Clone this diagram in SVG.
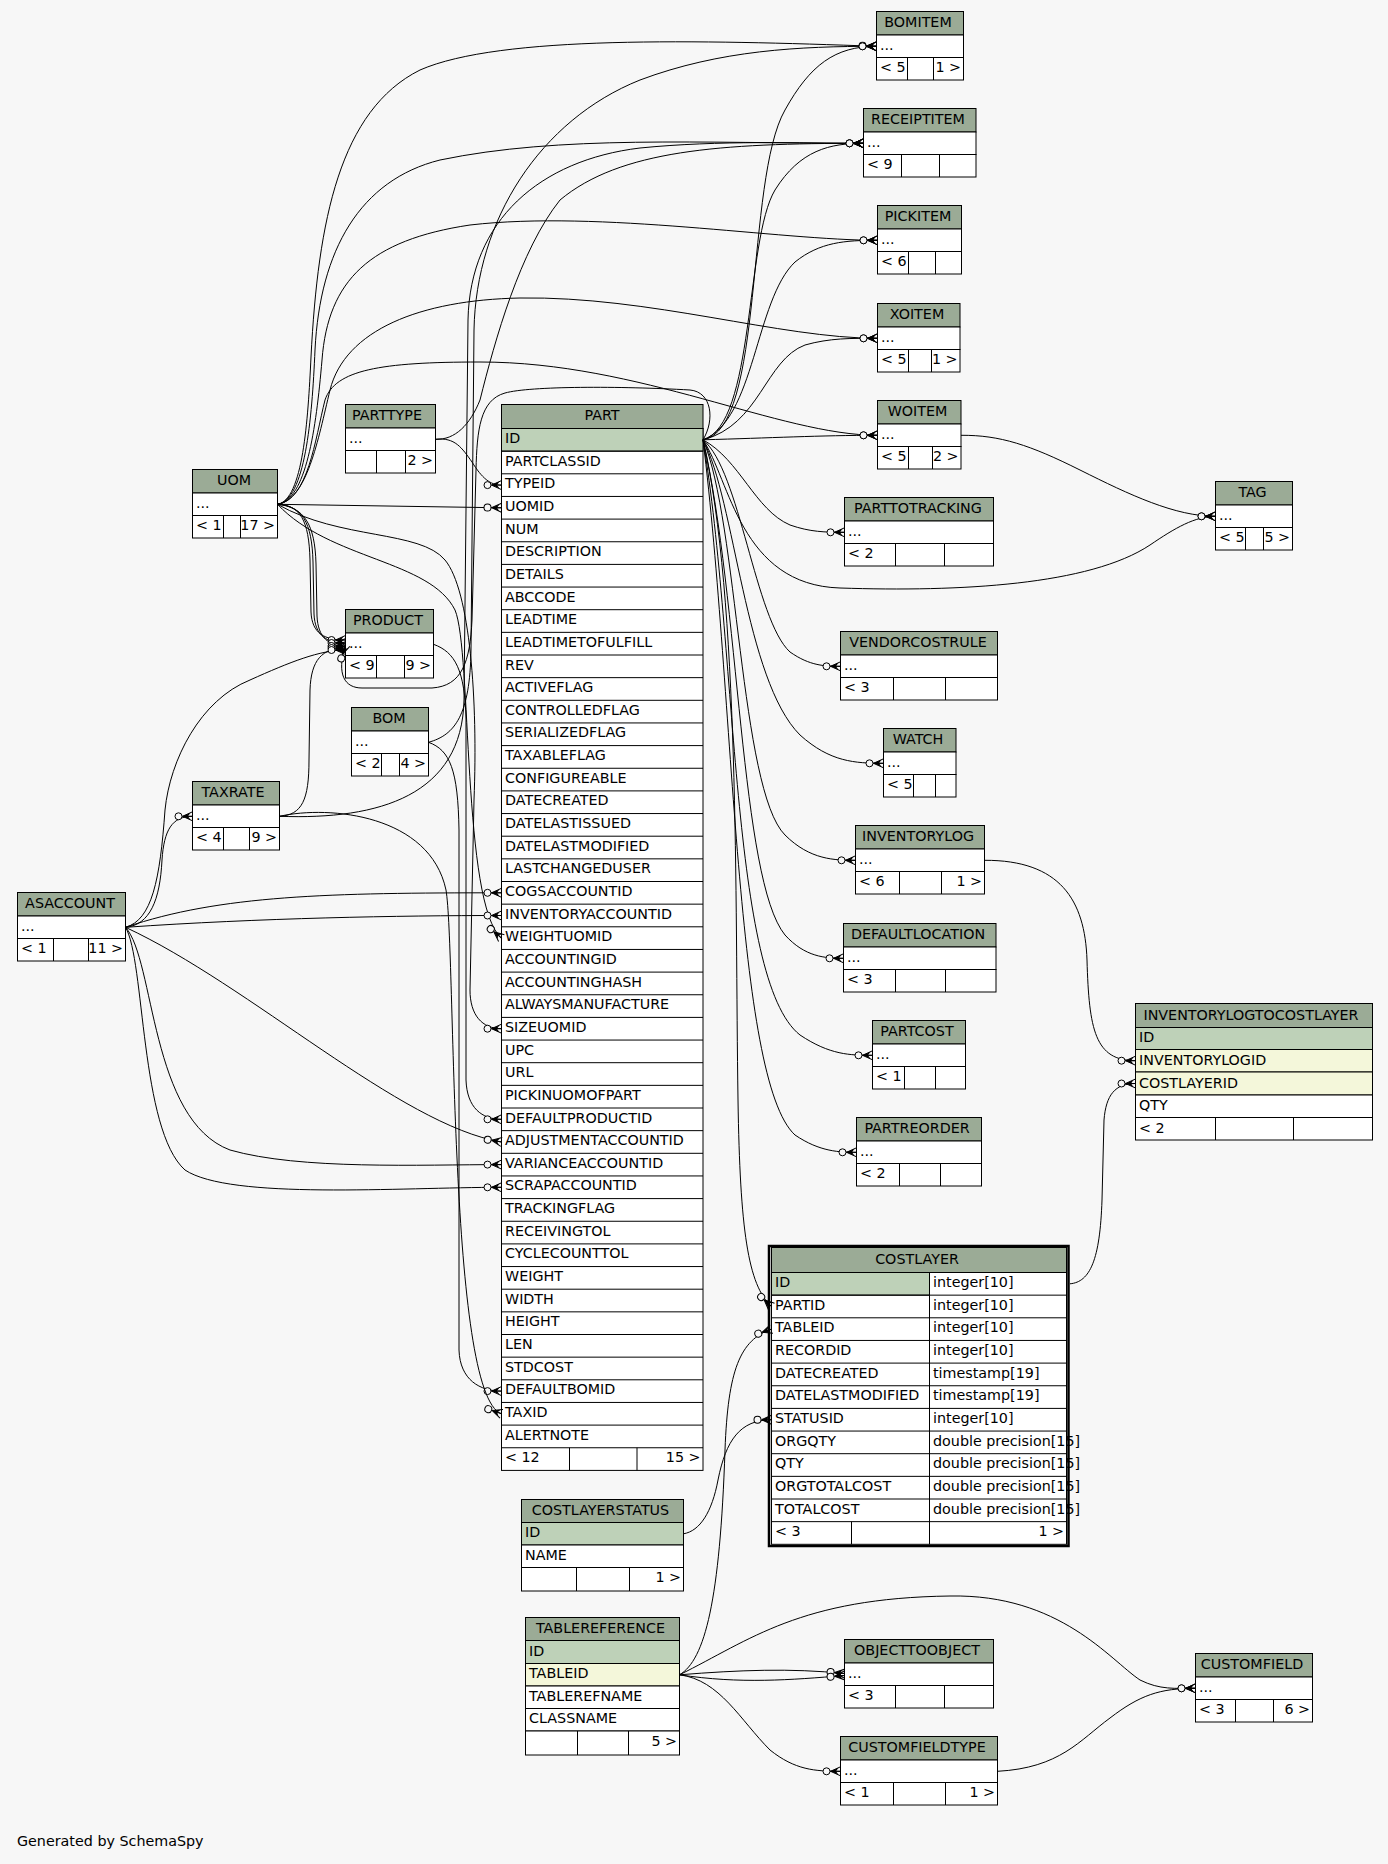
<svg xmlns="http://www.w3.org/2000/svg" width="1388" height="1864" viewBox="0 0 1388 1864">
<style>
text{font-family:"DejaVu Sans",sans-serif;font-size:14.3px;fill:#000}
.c{text-anchor:middle}
.r{text-anchor:end}
.h{fill:#9bab96;stroke:#000;stroke-width:1}
.b{fill:#fff;stroke:#000;stroke-width:1}
.k{fill:#bed1b8;stroke:#000;stroke-width:1}
.f{fill:#f4f7da;stroke:#000;stroke-width:1}
.l{fill:none;stroke:#000;stroke-width:1}
.e{fill:none;stroke:#000;stroke-width:1;marker-end:url(#co)}
</style>
<defs>
<marker id="co" markerWidth="1" markerHeight="1" refX="0" refY="0" orient="auto" markerUnits="userSpaceOnUse" overflow="visible">
<path d="M-10,0L0,-4.5M-10,0L0,0M-10,0L0,4.5" fill="none" stroke="#000" stroke-width="1"/>
<path d="M-10,0L-2,-3.5L-4.5,0L-2,3.5Z" fill="#000"/>
<circle cx="-14" cy="0" r="3.5" fill="#f7f7f7" stroke="#000" stroke-width="1"/>
</marker>
</defs>
<rect x="0" y="0" width="1388" height="1864" fill="#f7f7f7"/>

<g id="BOMITEM">
<rect class="h" x="876.5" y="11.5" width="87" height="23.5"/><rect class="b" x="876.5" y="35" width="87" height="22.5"/><rect class="b" x="876.5" y="57.5" width="87" height="22.5"/>
<path class="l" d="M907.5,57.5V80M933.5,57.5V80"/>
<text class="c" x="918" y="27">BOMITEM</text><text x="880" y="49.5">...</text><text x="880" y="72">&lt; 5</text><text class="r" x="961" y="72">1 &gt;</text>
</g>
<g id="RECEIPTITEM">
<rect class="h" x="863.5" y="108.5" width="112.5" height="23.5"/><rect class="b" x="863.5" y="132" width="112.5" height="22.5"/><rect class="b" x="863.5" y="154.5" width="112.5" height="22.5"/>
<path class="l" d="M901.5,154.5V177M939.5,154.5V177"/>
<text class="c" x="918" y="124">RECEIPTITEM</text><text x="867" y="146.5">...</text><text x="867" y="169">&lt; 9</text>
</g>
<g id="PICKITEM">
<rect class="h" x="877.5" y="205.5" width="84" height="23.5"/><rect class="b" x="877.5" y="229" width="84" height="22.5"/><rect class="b" x="877.5" y="251.5" width="84" height="22.5"/>
<path class="l" d="M908.5,251.5V274M935.5,251.5V274"/>
<text class="c" x="918" y="221">PICKITEM</text><text x="881" y="243.5">...</text><text x="881" y="266">&lt; 6</text>
</g>
<g id="XOITEM">
<rect class="h" x="877.5" y="303.5" width="82.5" height="23.5"/><rect class="b" x="877.5" y="327" width="82.5" height="22.5"/><rect class="b" x="877.5" y="349.5" width="82.5" height="22.5"/>
<path class="l" d="M908.5,349.5V372M931.5,349.5V372"/>
<text class="c" x="917" y="319">XOITEM</text><text x="881" y="341.5">...</text><text x="881" y="364">&lt; 5</text><text class="r" x="957.5" y="364">1 &gt;</text>
</g>
<g id="WOITEM">
<rect class="h" x="877.5" y="400.5" width="83.5" height="23.5"/><rect class="b" x="877.5" y="424" width="83.5" height="22.5"/><rect class="b" x="877.5" y="446.5" width="83.5" height="22.5"/>
<path class="l" d="M908.5,446.5V469M932.5,446.5V469"/>
<text class="c" x="917.5" y="416">WOITEM</text><text x="881" y="438.5">...</text><text x="881" y="461">&lt; 5</text><text class="r" x="958.5" y="461">2 &gt;</text>
</g>
<g id="PARTTOTRACKING">
<rect class="h" x="844.5" y="497.5" width="149" height="23.5"/><rect class="b" x="844.5" y="521" width="149" height="22.5"/><rect class="b" x="844.5" y="543.5" width="149" height="22.5"/>
<path class="l" d="M895.5,543.5V566M944.5,543.5V566"/>
<text class="c" x="918" y="513">PARTTOTRACKING</text><text x="848" y="535.5">...</text><text x="848" y="558">&lt; 2</text>
</g>
<g id="VENDORCOSTRULE">
<rect class="h" x="840.5" y="631.5" width="157" height="23.5"/><rect class="b" x="840.5" y="655" width="157" height="22.5"/><rect class="b" x="840.5" y="677.5" width="157" height="22.5"/>
<path class="l" d="M893.5,677.5V700M945.5,677.5V700"/>
<text class="c" x="918" y="647">VENDORCOSTRULE</text><text x="844" y="669.5">...</text><text x="844" y="692">&lt; 3</text>
</g>
<g id="WATCH">
<rect class="h" x="883.5" y="728.5" width="72.5" height="23.5"/><rect class="b" x="883.5" y="752" width="72.5" height="22.5"/><rect class="b" x="883.5" y="774.5" width="72.5" height="22.5"/>
<path class="l" d="M913.5,774.5V797M935.5,774.5V797"/>
<text class="c" x="918" y="744">WATCH</text><text x="887" y="766.5">...</text><text x="887" y="789">&lt; 5</text>
</g>
<g id="INVENTORYLOG">
<rect class="h" x="855.5" y="825.5" width="129" height="23.5"/><rect class="b" x="855.5" y="849" width="129" height="22.5"/><rect class="b" x="855.5" y="871.5" width="129" height="22.5"/>
<path class="l" d="M899.5,871.5V894M941.5,871.5V894"/>
<text class="c" x="918" y="841">INVENTORYLOG</text><text x="859" y="863.5">...</text><text x="859" y="886">&lt; 6</text><text class="r" x="982" y="886">1 &gt;</text>
</g>
<g id="DEFAULTLOCATION">
<rect class="h" x="843.5" y="923.5" width="152.5" height="23.5"/><rect class="b" x="843.5" y="947" width="152.5" height="22.5"/><rect class="b" x="843.5" y="969.5" width="152.5" height="22.5"/>
<path class="l" d="M895.5,969.5V992M945.5,969.5V992"/>
<text class="c" x="918" y="939">DEFAULTLOCATION</text><text x="847" y="961.5">...</text><text x="847" y="984">&lt; 3</text>
</g>
<g id="PARTCOST">
<rect class="h" x="872.5" y="1020.5" width="93" height="23.5"/><rect class="b" x="872.5" y="1044" width="93" height="22.5"/><rect class="b" x="872.5" y="1066.5" width="93" height="22.5"/>
<path class="l" d="M904.5,1066.5V1089M935.5,1066.5V1089"/>
<text class="c" x="917" y="1036">PARTCOST</text><text x="876" y="1058.5">...</text><text x="876" y="1081">&lt; 1</text>
</g>
<g id="PARTREORDER">
<rect class="h" x="856.5" y="1117.5" width="125" height="23.5"/><rect class="b" x="856.5" y="1141" width="125" height="22.5"/><rect class="b" x="856.5" y="1163.5" width="125" height="22.5"/>
<path class="l" d="M899.5,1163.5V1186M940.5,1163.5V1186"/>
<text class="c" x="917" y="1133">PARTREORDER</text><text x="860" y="1155.5">...</text><text x="860" y="1178">&lt; 2</text>
</g>
<g id="TAG">
<rect class="h" x="1215.5" y="481.5" width="77" height="23.5"/><rect class="b" x="1215.5" y="505" width="77" height="22.5"/><rect class="b" x="1215.5" y="527.5" width="77" height="22.5"/>
<path class="l" d="M1245.5,527.5V550M1263.5,527.5V550"/>
<text class="c" x="1252.5" y="497">TAG</text><text x="1219" y="519.5">...</text><text x="1219" y="542">&lt; 5</text><text class="r" x="1290" y="542">5 &gt;</text>
</g>
<g id="PARTTYPE">
<rect class="h" x="345.5" y="404.5" width="90" height="23.5"/><rect class="b" x="345.5" y="428" width="90" height="22.5"/><rect class="b" x="345.5" y="450.5" width="90" height="22.5"/>
<path class="l" d="M376.5,450.5V473M405.5,450.5V473"/>
<text class="c" x="387" y="420">PARTTYPE</text><text x="349" y="442.5">...</text><text class="r" x="433" y="465">2 &gt;</text>
</g>
<g id="UOM">
<rect class="h" x="192.5" y="469.5" width="85" height="23.5"/><rect class="b" x="192.5" y="493" width="85" height="22.5"/><rect class="b" x="192.5" y="515.5" width="85" height="22.5"/>
<path class="l" d="M223.5,515.5V538M240.5,515.5V538"/>
<text class="c" x="234" y="485">UOM</text><text x="196" y="507.5">...</text><text x="196" y="530">&lt; 1</text><text class="r" x="275" y="530">17 &gt;</text>
</g>
<g id="PRODUCT">
<rect class="h" x="345.5" y="609.5" width="88" height="23.5"/><rect class="b" x="345.5" y="633" width="88" height="22.5"/><rect class="b" x="345.5" y="655.5" width="88" height="22.5"/>
<path class="l" d="M376.5,655.5V678M404.5,655.5V678"/>
<text class="c" x="388" y="625">PRODUCT</text><text x="349" y="647.5">...</text><text x="349" y="670">&lt; 9</text><text class="r" x="431" y="670">9 &gt;</text>
</g>
<g id="BOM">
<rect class="h" x="351.5" y="707.5" width="77" height="23.5"/><rect class="b" x="351.5" y="731" width="77" height="22.5"/><rect class="b" x="351.5" y="753.5" width="77" height="22.5"/>
<path class="l" d="M381.5,753.5V776M399.5,753.5V776"/>
<text class="c" x="389" y="723">BOM</text><text x="355" y="745.5">...</text><text x="355" y="768">&lt; 2</text><text class="r" x="426" y="768">4 &gt;</text>
</g>
<g id="TAXRATE">
<rect class="h" x="192.5" y="781.5" width="87" height="23.5"/><rect class="b" x="192.5" y="805" width="87" height="22.5"/><rect class="b" x="192.5" y="827.5" width="87" height="22.5"/>
<path class="l" d="M223.5,827.5V850M249.5,827.5V850"/>
<text class="c" x="233" y="797">TAXRATE</text><text x="196" y="819.5">...</text><text x="196" y="842">&lt; 4</text><text class="r" x="277" y="842">9 &gt;</text>
</g>
<g id="ASACCOUNT">
<rect class="h" x="17.5" y="892.5" width="108" height="23.5"/><rect class="b" x="17.5" y="916" width="108" height="22.5"/><rect class="b" x="17.5" y="938.5" width="108" height="22.5"/>
<path class="l" d="M53.5,938.5V961M88.5,938.5V961"/>
<text class="c" x="70" y="908">ASACCOUNT</text><text x="21" y="930.5">...</text><text x="21" y="953">&lt; 1</text><text class="r" x="123" y="953">11 &gt;</text>
</g>
<g id="OBJECTTOOBJECT">
<rect class="h" x="844.5" y="1639.5" width="149" height="23.5"/><rect class="b" x="844.5" y="1663" width="149" height="22.5"/><rect class="b" x="844.5" y="1685.5" width="149" height="22.5"/>
<path class="l" d="M895.5,1685.5V1708M944.5,1685.5V1708"/>
<text class="c" x="917" y="1655">OBJECTTOOBJECT</text><text x="848" y="1677.5">...</text><text x="848" y="1700">&lt; 3</text>
</g>
<g id="CUSTOMFIELDTYPE">
<rect class="h" x="840.5" y="1736.5" width="157" height="23.5"/><rect class="b" x="840.5" y="1760" width="157" height="22.5"/><rect class="b" x="840.5" y="1782.5" width="157" height="22.5"/>
<path class="l" d="M893.5,1782.5V1805M945.5,1782.5V1805"/>
<text class="c" x="917" y="1752">CUSTOMFIELDTYPE</text><text x="844" y="1774.5">...</text><text x="844" y="1797">&lt; 1</text><text class="r" x="995" y="1797">1 &gt;</text>
</g>
<g id="CUSTOMFIELD">
<rect class="h" x="1195.5" y="1653.5" width="117" height="23.5"/><rect class="b" x="1195.5" y="1677" width="117" height="22.5"/><rect class="b" x="1195.5" y="1699.5" width="117" height="22.5"/>
<path class="l" d="M1235.5,1699.5V1722M1273.5,1699.5V1722"/>
<text class="c" x="1252" y="1669">CUSTOMFIELD</text><text x="1199" y="1691.5">...</text><text x="1199" y="1714">&lt; 3</text><text class="r" x="1310" y="1714">6 &gt;</text>
</g>
<g id="INVENTORYLOGTOCOSTLAYER">
<rect class="h" x="1135.5" y="1003.5" width="237" height="24"/><rect class="k" x="1135.5" y="1027.5" width="237" height="22"/><rect class="f" x="1135.5" y="1049.5" width="237" height="22.5"/><rect class="f" x="1135.5" y="1072" width="237" height="23"/><rect class="b" x="1135.5" y="1095" width="237" height="22.5"/><rect class="b" x="1135.5" y="1117.5" width="237" height="22.5"/>
<path class="l" d="M1215.5,1117.5V1140M1293.5,1117.5V1140"/>
<text class="c" x="1251" y="1019.5">INVENTORYLOGTOCOSTLAYER</text><text x="1139" y="1042">ID</text><text x="1139" y="1064.5">INVENTORYLOGID</text><text x="1139" y="1087.5">COSTLAYERID</text><text x="1139" y="1110">QTY</text><text x="1139" y="1132.5">&lt; 2</text>
</g>
<g id="COSTLAYERSTATUS">
<rect class="h" x="521.5" y="1499.5" width="162" height="23"/><rect class="k" x="521.5" y="1522.5" width="162" height="22.5"/><rect class="b" x="521.5" y="1545" width="162" height="22.5"/><rect class="b" x="521.5" y="1567.5" width="162" height="23.5"/>
<path class="l" d="M576.5,1567.5V1591M629.5,1567.5V1591"/>
<text class="c" x="600.5" y="1515">COSTLAYERSTATUS</text><text x="525" y="1537">ID</text><text x="525" y="1559.5">NAME</text><text class="r" x="681" y="1582">1 &gt;</text>
</g>
<g id="TABLEREFERENCE">
<rect class="h" x="525.5" y="1617.5" width="154" height="23"/><rect class="k" x="525.5" y="1640.5" width="154" height="23"/><rect class="f" x="525.5" y="1663.5" width="154" height="22.5"/><rect class="b" x="525.5" y="1686" width="154" height="22.5"/><rect class="b" x="525.5" y="1708.5" width="154" height="22.5"/><rect class="b" x="525.5" y="1731" width="154" height="24"/>
<path class="l" d="M577.5,1731V1755M628.5,1731V1755"/>
<text class="c" x="600.5" y="1633">TABLEREFERENCE</text><text x="529" y="1655.5">ID</text><text x="529" y="1678">TABLEID</text><text x="529" y="1700.5">TABLEREFNAME</text><text x="529" y="1723">CLASSNAME</text><text class="r" x="677" y="1746">5 &gt;</text>
</g>
<g id="COSTLAYER">
<rect x="769" y="1246" width="299.5" height="300" fill="none" stroke="#000" stroke-width="2.5"/>
<rect class="h" x="771.5" y="1247.5" width="295" height="25"/>
<rect class="b" x="771.5" y="1272.5" width="295" height="271.8"/>
<rect class="k" x="771.5" y="1272.5" width="158" height="22.65"/>
<path class="l" d="M771.5,1295.15H1066.5M771.5,1317.8H1066.5M771.5,1340.45H1066.5M771.5,1363.1H1066.5M771.5,1385.75H1066.5M771.5,1408.4H1066.5M771.5,1431.05H1066.5M771.5,1453.7H1066.5M771.5,1476.35H1066.5M771.5,1499H1066.5M771.5,1521.65H1066.5M929.5,1272.5V1544.3M851.5,1521.65V1544.3"/>
<text class="c" x="917" y="1263.5">COSTLAYER</text>
<text x="775" y="1287">ID</text><text x="933" y="1287">integer[10]</text>
<text x="775" y="1309.65">PARTID</text><text x="933" y="1309.65">integer[10]</text>
<text x="775" y="1332.3">TABLEID</text><text x="933" y="1332.3">integer[10]</text>
<text x="775" y="1354.95">RECORDID</text><text x="933" y="1354.95">integer[10]</text>
<text x="775" y="1377.6">DATECREATED</text><text x="933" y="1377.6">timestamp[19]</text>
<text x="775" y="1400.25">DATELASTMODIFIED</text><text x="933" y="1400.25">timestamp[19]</text>
<text x="775" y="1422.9">STATUSID</text><text x="933" y="1422.9">integer[10]</text>
<text x="775" y="1445.55">ORGQTY</text><text x="933" y="1445.55">double precision[15]</text>
<text x="775" y="1468.2">QTY</text><text x="933" y="1468.2">double precision[15]</text>
<text x="775" y="1490.85">ORGTOTALCOST</text><text x="933" y="1490.85">double precision[15]</text>
<text x="775" y="1513.5">TOTALCOST</text><text x="933" y="1513.5">double precision[15]</text>
<text x="775" y="1536.15">&lt; 3</text><text class="r" x="1064" y="1536.15">1 &gt;</text>
</g>
<g id="PART">
<rect class="h" x="501.5" y="404.5" width="201.5" height="24"/>
<rect class="b" x="501.5" y="428.5" width="201.5" height="1041.9"/>
<rect class="k" x="501.5" y="428.5" width="201.5" height="22.65"/>
<path class="l" d="M501.5,451.15H703M501.5,473.8H703M501.5,496.45H703M501.5,519.1H703M501.5,541.75H703M501.5,564.4H703M501.5,587.05H703M501.5,609.7H703M501.5,632.35H703M501.5,655H703M501.5,677.65H703M501.5,700.3H703M501.5,722.95H703M501.5,745.6H703M501.5,768.25H703M501.5,790.9H703M501.5,813.55H703M501.5,836.2H703M501.5,858.85H703M501.5,881.5H703M501.5,904.15H703M501.5,926.8H703M501.5,949.45H703M501.5,972.1H703M501.5,994.75H703M501.5,1017.4H703M501.5,1040.05H703M501.5,1062.7H703M501.5,1085.35H703M501.5,1108H703M501.5,1130.65H703M501.5,1153.3H703M501.5,1175.95H703M501.5,1198.6H703M501.5,1221.25H703M501.5,1243.9H703M501.5,1266.55H703M501.5,1289.2H703M501.5,1311.85H703M501.5,1334.5H703M501.5,1357.15H703M501.5,1379.8H703M501.5,1402.45H703M501.5,1425.1H703M501.5,1447.75H703M569.5,1447.75V1470.4M637,1447.75V1470.4"/>
<text class="c" x="602" y="420">PART</text>
<text x="505" y="443">ID</text>
<text x="505" y="465.65">PARTCLASSID</text>
<text x="505" y="488.3">TYPEID</text>
<text x="505" y="510.95">UOMID</text>
<text x="505" y="533.6">NUM</text>
<text x="505" y="556.25">DESCRIPTION</text>
<text x="505" y="578.9">DETAILS</text>
<text x="505" y="601.55">ABCCODE</text>
<text x="505" y="624.2">LEADTIME</text>
<text x="505" y="646.85">LEADTIMETOFULFILL</text>
<text x="505" y="669.5">REV</text>
<text x="505" y="692.15">ACTIVEFLAG</text>
<text x="505" y="714.8">CONTROLLEDFLAG</text>
<text x="505" y="737.45">SERIALIZEDFLAG</text>
<text x="505" y="760.1">TAXABLEFLAG</text>
<text x="505" y="782.75">CONFIGUREABLE</text>
<text x="505" y="805.4">DATECREATED</text>
<text x="505" y="828.05">DATELASTISSUED</text>
<text x="505" y="850.7">DATELASTMODIFIED</text>
<text x="505" y="873.35">LASTCHANGEDUSER</text>
<text x="505" y="896">COGSACCOUNTID</text>
<text x="505" y="918.65">INVENTORYACCOUNTID</text>
<text x="505" y="941.3">WEIGHTUOMID</text>
<text x="505" y="963.95">ACCOUNTINGID</text>
<text x="505" y="986.6">ACCOUNTINGHASH</text>
<text x="505" y="1009.25">ALWAYSMANUFACTURE</text>
<text x="505" y="1031.9">SIZEUOMID</text>
<text x="505" y="1054.55">UPC</text>
<text x="505" y="1077.2">URL</text>
<text x="505" y="1099.85">PICKINUOMOFPART</text>
<text x="505" y="1122.5">DEFAULTPRODUCTID</text>
<text x="505" y="1145.15">ADJUSTMENTACCOUNTID</text>
<text x="505" y="1167.8">VARIANCEACCOUNTID</text>
<text x="505" y="1190.45">SCRAPACCOUNTID</text>
<text x="505" y="1213.1">TRACKINGFLAG</text>
<text x="505" y="1235.75">RECEIVINGTOL</text>
<text x="505" y="1258.4">CYCLECOUNTTOL</text>
<text x="505" y="1281.05">WEIGHT</text>
<text x="505" y="1303.7">WIDTH</text>
<text x="505" y="1326.35">HEIGHT</text>
<text x="505" y="1349">LEN</text>
<text x="505" y="1371.65">STDCOST</text>
<text x="505" y="1394.3">DEFAULTBOMID</text>
<text x="505" y="1416.95">TAXID</text>
<text x="505" y="1439.6">ALERTNOTE</text>
<text x="505" y="1462.25">&lt; 12</text><text class="r" x="700.5" y="1462.25">15 &gt;</text>
</g>

<g id="connectors">
<path class="e" d="M703,439.8C765,430 745,180 785,110C810,65 835,46.3 876.5,46.3"/>
<path class="e" d="M703,439.8C755,425 745,240 775,190C800,150 830,143.3 863.5,143.3"/>
<path class="e" d="M703,439.8C755,420 755,300 795,262C820,242 845,240.3 877.5,240.3"/>
<path class="e" d="M703,439.8C760,425 765,360 805,345C830,338 850,338.3 877.5,338.3"/>
<path class="e" d="M703,439.8C770,438 820,435.3 877.5,435.3"/>
<path class="e" d="M703,439.8C740,460 755,510 790,525C810,532 825,532.3 844.5,532.3"/>
<path class="e" d="M703,439.8C740,470 755,620 790,652C810,666 825,666.3 840.5,666.3"/>
<path class="e" d="M703,439.8C735,500 745,680 800,735C830,762 855,763.3 883.5,763.3"/>
<path class="e" d="M703,439.8C738,520 740,790 785,835C810,860 835,860.3 855.5,860.3"/>
<path class="e" d="M703,439.8C740,600 740,880 785,935C805,957 825,958.3 843.5,958.3"/>
<path class="e" d="M703,439.8C738,650 730,980 800,1035C830,1055 850,1055.3 872.5,1055.3"/>
<path class="e" d="M703,439.8C735,700 735,1080 795,1135C820,1152 840,1152.3 856.5,1152.3"/>
<path class="e" d="M703,439.8C740,600 735,900 738,1100C740,1230 748,1285 771.5,1306.5"/>
<path class="e" d="M703,439.8C730,480 740,585 840,588C960,592 1090,585 1150,545C1175,528 1195,516.3 1215.5,516.3"/>
<path class="e" d="M703,439.8C715,420 712,392 690,390C620,386 530,386 505,393C480,400 477,430 476,470L472,620C470,662 462,686 432,688L362,688C345,688 336,675 345.5,645"/>
<path class="e" d="M277.5,504.3C303,500 308,420 311,357C318,220 340,110 420,70C500,35 700,40 876.5,46.3"/>
<path class="e" d="M277.5,504.3C305,500 312,420 315,350C320,250 360,180 440,160C560,135 700,143.3 863.5,143.3"/>
<path class="e" d="M277.5,504.3C306,500 316,430 322,360C328,280 370,240 470,225C600,210 780,240.3 877.5,240.3"/>
<path class="e" d="M277.5,504.3C307,500 318,440 330,390C345,330 420,300 520,298C650,296 780,338.3 877.5,338.3"/>
<path class="e" d="M277.5,504.3C308,500 315,440 325,400C335,370 380,362 480,362C640,362 780,435.3 877.5,435.3"/>
<path class="e" d="M277.5,504.3L501.5,507.8"/>
<path class="e" d="M277.5,504.3C330,560 430,560 455,610C472,650 462,905 501.5,938.1"/>
<path class="e" d="M277.5,504.3C340,540 420,530 445,560C470,590 478,700 474,800L470,990C470,1015 482,1028.7 501.5,1028.7"/>
<path class="e" d="M277.5,504.3C300,505 309,520 310,560L311,612C312,634 325,640 345.5,640"/>
<path class="e" d="M277.5,504.3C302,506 312,522 313,562L314,614C315,636 327,643 345.5,643"/>
<path class="e" d="M277.5,504.3C304,507 315,524 316,564L317,616C318,638 329,646 345.5,646"/>
<path class="e" d="M435.5,439.3C455,437 462,448 472,462C482,478 490,485.1 501.5,485.1"/>
<path class="e" d="M435.5,439.3C455,440 470,425 480,400C495,340 520,250 560,200C620,150 720,143.3 863.5,143.3"/>
<path class="e" d="M433.5,644.3C455,652 465,670 466,720L466,1080C467,1108 482,1119.3 501.5,1119.3"/>
<path class="e" d="M428.5,742.3C455,735 470,715 471,650L474,330C476,220 540,120 640,80C720,50 800,46.3 876.5,46.3"/>
<path class="e" d="M428.5,742.3C450,750 458,770 459,830L459,1350C460,1380 480,1391.1 501.5,1391.1"/>
<path class="e" d="M279.5,816.3C380,820 462,795 464,700L468,320C470,220 540,160 640,148C720,140 800,143.3 863.5,143.3"/>
<path class="e" d="M279.5,816.3C302,815 309,800 309,760L310,690C311,660 322,648 345.5,648"/>
<path class="e" d="M279.5,816.3C330,805 430,815 446,890C456,950 448,1395 501.5,1413.8"/>
<path class="e" d="M125.5,927.3C150,925 160,900 162,860C164,830 172,816.3 192.5,816.3"/>
<path class="e" d="M125.5,927.3C152,920 160,880 165,810C170,760 200,700 250,680C290,662 320,650 345.5,650"/>
<path class="e" d="M125.5,927.3C220,895 330,892.8 501.5,892.8"/>
<path class="e" d="M125.5,927.3C260,918 400,915.5 501.5,915.5"/>
<path class="e" d="M125.5,927.3C250,985 400,1125 501.5,1142"/>
<path class="e" d="M125.5,927.3C155,960 150,1120 230,1150C300,1170 420,1164.6 501.5,1164.6"/>
<path class="e" d="M125.5,927.3C145,960 140,1130 185,1170C230,1200 400,1187.3 501.5,1187.3"/>
<path class="e" d="M961,435.3C1000,435 1030,445 1080,470C1130,495 1175,516.3 1215.5,516.3"/>
<path class="e" d="M984.5,860.3C1060,860 1085,900 1087,960C1089,1030 1095,1060.7 1135.5,1060.7"/>
<path class="e" d="M1070,1283.8C1090,1282 1100,1260 1102,1200L1104,1120C1106,1095 1115,1083.5 1135.5,1083.5"/>
<path class="e" d="M683.5,1533.8C700,1531 712,1512 718,1480C726,1440 740,1420 771.5,1419.7"/>
<path class="e" d="M679.5,1674.8C705,1660 720,1600 725,1450C728,1370 740,1340 771.5,1329.1"/>
<path class="e" d="M679.5,1674.8C740,1670 790,1668 844.5,1673.5"/>
<path class="e" d="M679.5,1674.8C740,1684 790,1680 844.5,1675.5"/>
<path class="e" d="M679.5,1674.8C720,1680 740,1720 770,1750C795,1770 815,1771.3 840.5,1771.3"/>
<path class="e" d="M679.5,1674.8C750,1640 800,1598 950,1596C1060,1594 1110,1660 1140,1680C1160,1690 1175,1688.3 1195.5,1688.3"/>
<path class="e" d="M997.5,1771.3C1060,1768 1080,1740 1110,1718C1140,1695 1160,1688.3 1195.5,1688.3"/>
</g>
<text x="17" y="1846">Generated by SchemaSpy</text>
</svg>
